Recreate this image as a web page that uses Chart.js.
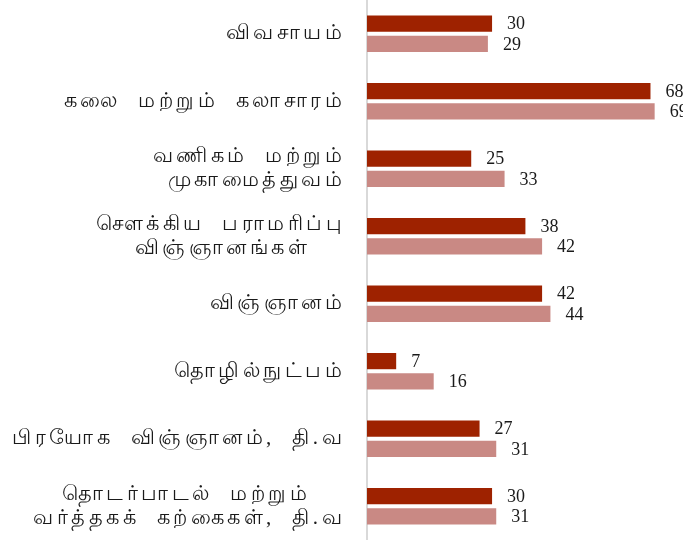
<!DOCTYPE html>
<html lang="ta">
<head>
    <meta charset="UTF-8">
    <title>Chart</title>
    <script src="https://cdn.jsdelivr.net/npm/chart.js"></script>
    <style>
        body { margin: 0; background: #fff; overflow: hidden; }
        #wrap { width: 683px; height: 540px; }
    </style>
</head>
<body>
    <div id="wrap">
        <canvas id="barChart" width="683" height="540"></canvas>
    </div>
    <script>
        // trailing no-break spaces keep two-line labels centred on each other
        const pad = '\u00a0\u00a0\u00a0\u00a0';
        const categories = [
            ['விவசாயம்'],
            ['கலை  மற்றும்  கலாசாரம்'],
            ['வணிகம்  மற்றும்', 'முகாமைத்துவம்'],
            ['சௌக்கிய  பராமரிப்பு', 'விஞ்ஞானங்கள்' + pad],
            ['விஞ்ஞானம்'],
            ['தொழில்நுட்பம்'],
            ['பிரயோக  விஞ்ஞானம்,  தி.வ'],
            ['தொடர்பாடல்  மற்றும்' + pad, 'வர்த்தகக்  கற்கைகள்,  தி.வ']
        ];
        const seriesA = [30, 68, 25, 38, 42, 7, 27, 30];
        const seriesB = [29, 69, 33, 42, 44, 16, 31, 31];

        // wide letter spacing for the category labels
        const spacing = {
            id: 'spacing',
            beforeUpdate(chart) { chart.ctx.letterSpacing = '3.5px'; },
            beforeDraw(chart) { chart.ctx.letterSpacing = '3.5px'; }
        };

        // value labels to the right of each bar
        const valueLabels = {
            id: 'valueLabels',
            afterDatasetsDraw(chart) {
                const ctx = chart.ctx;
                ctx.save();
                ctx.letterSpacing = '0px';
                ctx.font = '18px "Liberation Serif", serif';
                ctx.fillStyle = '#1a1a1a';
                ctx.textBaseline = 'middle';
                ctx.textAlign = 'left';
                chart.data.datasets.forEach((ds, i) => {
                    chart.getDatasetMeta(i).data.forEach((bar, j) => {
                        ctx.fillText(String(ds.data[j]), bar.x + 15, bar.y + 1);
                    });
                });
                ctx.restore();
            }
        };

        const ctx = document.getElementById('barChart').getContext('2d');
        new Chart(ctx, {
            type: 'bar',
            data: {
                labels: categories,
                datasets: [
                    { label: 'A', data: seriesA, backgroundColor: '#9e2200', categoryPercentage: 0.6, barPercentage: 0.8 },
                    { label: 'B', data: seriesB, backgroundColor: '#c98984', categoryPercentage: 0.6, barPercentage: 0.8 }
                ]
            },
            options: {
                indexAxis: 'y',
                responsive: false,
                animation: false,
                layout: { padding: 0 },
                plugins: {
                    legend: { display: false },
                    tooltip: { enabled: false }
                },
                scales: {
                    x: { display: false, min: 0, max: 75.8 },
                    y: {
                        grid: { display: false },
                        border: { display: true, color: '#d9d9d9', width: 2 },
                        afterFit(scale) {
                            scale.width = 367;
                            scale.paddingTop = 0;
                            scale.paddingBottom = 0;
                        },
                        ticks: {
                            padding: 14,
                            color: '#1a1a1a',
                            font: { size: 21, family: '"Liberation Serif", serif', lineHeight: 1.15 }
                        }
                    }
                }
            },
            plugins: [spacing, valueLabels]
        });
    </script>
</body>
</html>
